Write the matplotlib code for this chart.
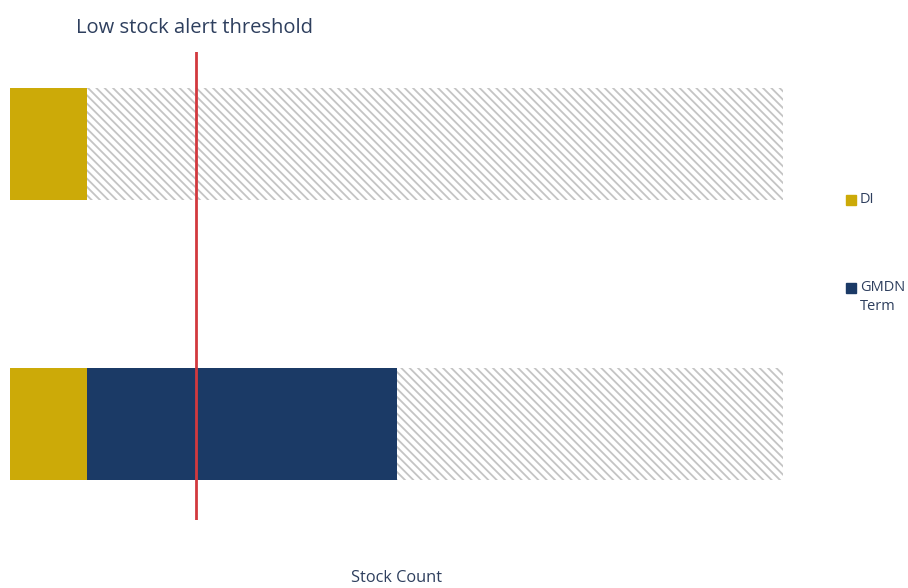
import matplotlib.pyplot as plt
from matplotlib.patches import Rectangle

plt.rcParams['font.family'] = ['Open Sans', 'DejaVu Sans']
plt.rcParams['hatch.linewidth'] = 1.3

# data (stock counts, arbitrary units)
rows = ['top', 'bottom']
di_vals = [10, 10]
gmdn_vals = [0, 40]
capacity = [100, 100]
threshold = 24

gold = '#CCAA08'
navy = '#1B3A66'
red = '#D2393E'
text_col = '#2E3F5E'

fig = plt.figure(figsize=(9.08, 5.88), dpi=100)
ax = fig.add_axes([10 / 908, 68 / 588, 773 / 908, 468 / 588])

ypos = [0.8034, 0.2051]
h = 0.2393

for y, di, gm, cap in zip(ypos, di_vals, gmdn_vals, capacity):
    rest = cap - di - gm
    ax.barh(y, rest, left=di + gm, height=h, color='white',
            edgecolor='#C4C4C4', hatch='\\\\\\\\', linewidth=0)
    ax.barh(y, di, height=h, color=gold, linewidth=0)
    if gm:
        ax.barh(y, gm, left=di, height=h, color=navy, linewidth=0)

ax.axvline(threshold, color=red, lw=2)
ax.set_xlim(0, 100)
ax.set_ylim(0, 1)
ax.axis('off')

fig.text(76 / 908, 1 - 28 / 588, 'Low stock alert threshold', fontsize=14.5,
         color=text_col, va='center', ha='left')
fig.text(397 / 908, 1 - 578 / 588, 'Stock Count', fontsize=11.8,
         color=text_col, va='center', ha='center')

# legend
for yy, col, lab in [(200, gold, 'DI'), (288, navy, 'GMDN\nTerm')]:
    fig.patches.append(Rectangle((846 / 908, 1 - (yy + 5) / 588), 10 / 908, 10 / 588,
                                 color=col, transform=fig.transFigure))
    fig.text(860 / 908, 1 - (yy - 8) / 588, lab, fontsize=10.5, color=text_col,
             va='top', ha='left', linespacing=1.35)

fig.savefig('out.png', dpi=100)
